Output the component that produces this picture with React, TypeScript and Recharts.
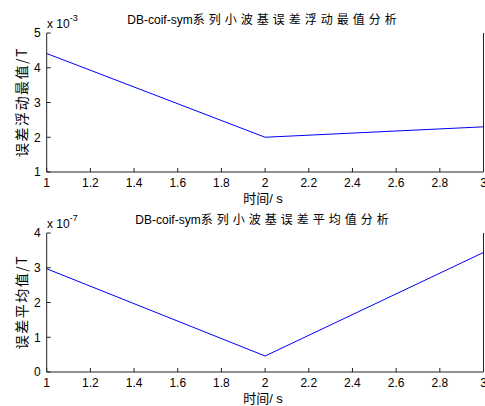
import React from "react";
import { LineChart, Line, XAxis, YAxis } from "recharts";

const times = [1, 2, 3];
const maxErr = [4.41e-3, 2.0e-3, 2.3e-3];
const meanErr = [2.97e-7, 0.46e-7, 3.44e-7];
const xTicks = [1, 1.2, 1.4, 1.6, 1.8, 2, 2.2, 2.4, 2.6, 2.8, 3];
const maxTicks = [1e-3, 2e-3, 3e-3, 4e-3, 5e-3];
const meanTicks = [0, 1e-7, 2e-7, 3e-7, 4e-7];

const latin = "'Liberation Sans', Arial, sans-serif";
const cjk = "'Noto Sans CJK SC', sans-serif";
const axisColor = "#222";

const noTick = () => <g />;

interface PanelProps {
  top: number;
  values: number[];
  ticks: number[];
  scale: number;
  exp: string;
  title: string;
  ylabel: string;
}

const Panel: React.FC<PanelProps> = ({ top, values, ticks, scale, exp, title, ylabel }) => {
  const data = times.map((t, i) => ({ t, v: values[i] }));
  const domain = [ticks[0], ticks[ticks.length - 1]];
  return (
    <div style={{ position: "absolute", left: 0, top, width: 485, height: 206 }}>
      <LineChart width={485} height={200} data={data} margin={{ top: 33, right: 0, bottom: 0, left: 0 }}>
        <XAxis
          dataKey="t"
          type="number"
          domain={[1, 3]}
          ticks={xTicks}
          interval={0}
          height={28}
          tickSize={-4}
          tickMargin={10}
          stroke={axisColor}
          tick={{ fill: "#000", fontSize: 12, fontFamily: latin }}
          tickFormatter={(v: number) => String(Number(v.toFixed(1)))}
        />
        <XAxis
          xAxisId="top"
          dataKey="t"
          type="number"
          orientation="top"
          domain={[1, 3]}
          ticks={xTicks}
          interval={0}
          height={0}
          tickSize={-4}
          stroke={axisColor}
          tick={noTick}
        />
        <YAxis
          yAxisId="l"
          type="number"
          domain={domain}
          ticks={ticks}
          interval={0}
          width={46.7}
          tickSize={-4}
          tickMargin={10}
          stroke={axisColor}
          tick={{ fill: "#000", fontSize: 12, fontFamily: latin }}
          tickFormatter={(v: number) => String(Math.round(v * scale))}
        />
        <YAxis
          yAxisId="r"
          type="number"
          orientation="right"
          domain={domain}
          ticks={ticks}
          interval={0}
          width={1.5}
          tickSize={-4}
          stroke={axisColor}
          tick={noTick}
        />
        <Line
          yAxisId="l"
          dataKey="v"
          stroke="#0000ff"
          strokeWidth={1}
          dot={false}
          isAnimationActive={false}
        />
      </LineChart>
      <div
        style={{
          position: "absolute",
          left: 0,
          width: 528,
          top: 12,
          textAlign: "center",
          fontSize: 12,
          lineHeight: "14px",
          fontFamily: latin,
          whiteSpace: "nowrap",
        }}
      >
        {title.slice(0, 11)}
        <span style={{ fontFamily: cjk, letterSpacing: 4 }}>{title.slice(11)}</span>
      </div>
      <div
        style={{
          position: "absolute",
          left: 47,
          top: 13,
          fontSize: 12,
          lineHeight: "14px",
          fontFamily: latin,
          whiteSpace: "nowrap",
        }}
      >
        x 10<sup style={{ fontSize: 9, position: "relative", top: -2 }}>{exp}</sup>
      </div>
      <div
        style={{
          position: "absolute",
          left: 21 - 60,
          top: 102 - 9,
          width: 120,
          height: 18,
          lineHeight: "18px",
          textAlign: "center",
          transform: "rotate(-90deg)",
          fontSize: 14,
          fontFamily: cjk,
          letterSpacing: 1.5,
          whiteSpace: "nowrap",
        }}
      >
        {ylabel}
      </div>
      <div
        style={{
          position: "absolute",
          left: 0,
          width: 526,
          top: 191,
          textAlign: "center",
          fontSize: 13,
          lineHeight: "13px",
          fontFamily: cjk,
          whiteSpace: "nowrap",
        }}
      >
        时间<span style={{ fontFamily: latin }}>/ s</span>
      </div>
    </div>
  );
};

export default function App() {
  return (
    <div style={{ position: "fixed", left: 0, top: 0, width: 485, height: 406, background: "#fff", overflow: "hidden" }}>
      <Panel
        top={0}
        values={maxErr}
        ticks={maxTicks}
        scale={1e3}
        exp="-3"
        title="DB-coif-sym系列小波基误差浮动最值分析"
        ylabel="误差浮动最值/T"
      />
      <Panel
        top={200}
        values={meanErr}
        ticks={meanTicks}
        scale={1e7}
        exp="-7"
        title="DB-coif-sym系列小波基误差平均值分析"
        ylabel="误差平均值/T"
      />
    </div>
  );
}
